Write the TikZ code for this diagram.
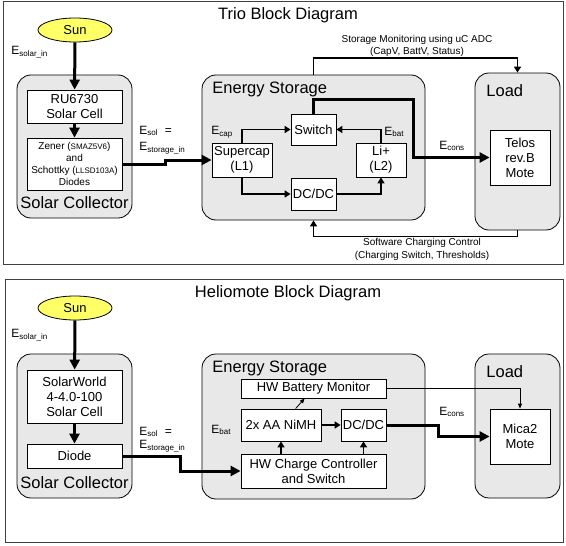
\documentclass[tikz,border=0pt]{standalone}
\usepackage{fontspec}
\setmainfont{Liberation Sans}
\usetikzlibrary{arrows.meta,shapes.geometric}
\definecolor{sunfill}{RGB}{255,255,102}
\definecolor{groupgray}{RGB}{232,232,232}
\begin{document}
\begin{tikzpicture}[x=1pt,y=-1pt,line width=.8pt,
  frame/.style={draw=black!75},
  group/.style={draw,fill=groupgray,rounded corners=14pt,inner sep=0pt},
  blk/.style={draw,fill=white,inner sep=1pt,align=center,font=\fontsize{13}{15}\selectfont},
  sun/.style={ellipse,draw,fill=sunfill,minimum width=74,minimum height=24,inner sep=0pt,font=\fontsize{13}{15}\selectfont},
  big/.style={inner sep=0pt,font=\fontsize{16.5}{18}\selectfont},
  lbl/.style={inner sep=0pt,font=\fontsize{12}{14}\selectfont},
  note/.style={inner sep=0pt,align=center,font=\fontsize{10}{12.5}\selectfont},
  power/.style={line width=3pt,-{Triangle[length=10pt,width=10pt]}},
  ctrl/.style={line width=1.8pt,-{Triangle[length=6pt,width=7pt]}},
  sense/.style={line width=.8pt,-{Triangle[length=5pt,width=4pt]}}]
\path[use as bounding box] (0,0) rectangle (566,546);
\draw[frame] (3,1) rectangle (563,264);
\draw[frame] (5,279) rectangle (563,542);
% Trio
\node[big] (title1) at (288,15) {Trio Block Diagram};
\node[sun] (sun1) at (75,30) {Sun};
\node[lbl,anchor=west] (esolar1) at (11,52) {E\textsubscript{solar\_in}};
\node[group,minimum width=115,minimum height=143] (col1) at (74.5,146.5) {};
\node[blk,minimum width=95,minimum height=33] (ru) at (74.5,106.5) {RU6730\\Solar Cell};
\node[blk,minimum width=95,minimum height=52,font=\fontsize{10}{12}\selectfont] (zener) at (74.5,164) {Zener ({\fontsize{8}{10}\selectfont SMAZ5V6})\\and\\Schottky ({\fontsize{8}{10}\selectfont LLSD103A})\\Diodes};
\node[big] (col1txt) at (74.5,203) {Solar Collector};
\node[lbl,anchor=west] (esol1) at (139,131) {E\textsubscript{sol}\ \ =};
\node[lbl,anchor=west] (estor1) at (139,148) {E\textsubscript{storage\_in}};
\node[group,minimum width=223,minimum height=145] (stor1) at (313.5,147.5) {};
\node[big,anchor=west] (stor1txt) at (212,89) {Energy Storage};
\node[blk,minimum width=60,minimum height=34] (supercap) at (242,160) {Supercap\\(L1)};
\node[blk,minimum width=45,minimum height=31] (switch) at (313.5,129.5) {Switch};
\node[blk,minimum width=45,minimum height=32] (dcdc1) at (313.5,194) {DC/DC};
\node[blk,minimum width=50,minimum height=34] (li) at (381,160) {Li+\\(L2)};
\node[lbl,anchor=west] (ecap) at (211,132) {E\textsubscript{cap}};
\node[lbl,anchor=west] (ebat1) at (384,132) {E\textsubscript{bat}};
\node[group,minimum width=85,minimum height=157] (load1) at (517.5,151.5) {};
\node[big,anchor=west] (load1txt) at (486,91) {Load};
\node[blk,minimum width=60,minimum height=55] (telos) at (520,157.5) {Telos\\rev.B\\Mote};
\node[lbl] (econs1) at (452,146) {E\textsubscript{cons}};
\node[note] (moni) at (417,46) {Storage Monitoring using uC ADC\\(CapV, BattV, Status)};
\node[note] (soft) at (422,249.5) {Software Charging Control\\(Charging Switch, Thresholds)};
\draw[power] (sun1) -- (ru);
\draw[power] (ru) -- (zener);
\draw[power] (zener.east) -- ++(43,0) |- (supercap.west);
\draw[ctrl] (supercap.north) |- (switch.west);
\draw[ctrl] (li.north) |- (switch.east);
\draw[ctrl] (supercap.south) |- (dcdc1.west);
\draw[ctrl] (dcdc1.east) -| (li.south);
\draw[power] (switch.north) -- ++(0,-14) -- ++(99.5,0) |- (telos.west);
\draw[ctrl] (stor1.north) -- ++(0,-17) -| (load1.north);
\draw[ctrl] (load1.south) -- ++(0,6) -| (stor1.south);
% Heliomote
\node[big] (title2) at (288,293) {Heliomote Block Diagram};
\node[sun] (sun2) at (75,308) {Sun};
\node[lbl,anchor=west] (esolar2) at (11,335) {E\textsubscript{solar\_in}};
\node[group,minimum width=115,minimum height=144] (col2) at (74.5,426) {};
\node[blk,minimum width=95,minimum height=53] (solarworld) at (74.5,396.5) {SolarWorld\\4-4.0-100\\Solar Cell};
\node[blk,minimum width=95,minimum height=24] (diode) at (74.5,456) {Diode};
\node[big] (col2txt) at (74.5,483) {Solar Collector};
\node[lbl,anchor=west] (esol2) at (139,432) {E\textsubscript{sol}\ \ =};
\node[lbl,anchor=west] (estor2) at (139,446) {E\textsubscript{storage\_in}};
\node[group,minimum width=223,minimum height=145] (stor2) at (313.5,426.5) {};
\node[big,anchor=west] (stor2txt) at (212,368) {Energy Storage};
\node[blk,minimum width=145,minimum height=19] (monitor) at (313.5,388.5) {HW Battery Monitor};
\node[blk,minimum width=80,minimum height=32] (nimh) at (281,425) {2x AA NiMH};
\node[blk,minimum width=45,minimum height=32] (dcdc2) at (363.5,425) {DC/DC};
\node[blk,minimum width=145,minimum height=34] (charge) at (313.5,471) {HW Charge Controller\\and Switch};
\node[lbl,anchor=west] (ebat2) at (211,430) {E\textsubscript{bat}};
\node[group,minimum width=85,minimum height=144] (load2) at (517.5,426) {};
\node[big,anchor=west] (load2txt) at (486,372) {Load};
\node[blk,minimum width=60,minimum height=55] (mica) at (520,436.5) {Mica2\\Mote};
\node[lbl] (econs2) at (452,412) {E\textsubscript{cons}};
\draw[power] (sun2) -- (solarworld);
\draw[power] (solarworld) -- (diode);
\draw[power] (diode.east) -- ++(58,0) |- (charge.west);
\draw[sense] (nimh) -- (monitor);
\draw[ctrl] (nimh) -- (dcdc2);
\draw[ctrl] (nimh.south |- charge.north) -- (nimh.south);
\draw[ctrl] (dcdc2.south |- charge.north) -- (dcdc2.south);
\draw[sense] (monitor.east) -| (mica.north);
\draw[power] (dcdc2.east) -- ++(52,0) |- (mica.west);
\end{tikzpicture}
\end{document}
